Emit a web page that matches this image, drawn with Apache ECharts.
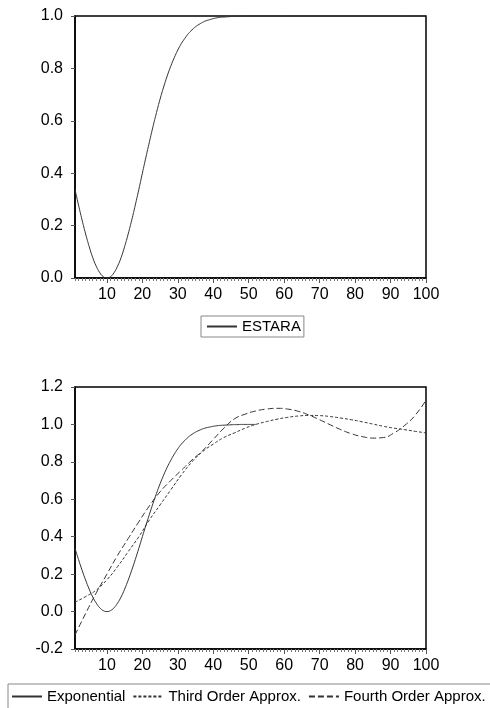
<!DOCTYPE html>
<html>
<head>
<meta charset="utf-8">
<script src="https://cdn.jsdelivr.net/npm/echarts@6/dist/echarts.min.js"></script>
<style>
  html, body { margin: 0; padding: 0; background: #fff; }
  #chart { width: 490px; height: 708px; }
</style>
</head>
<body>
<div id="chart"></div>
<script>
// ESTAR transition function and its polynomial approximations
const obs = Array.from({ length: 100 }, (_, i) => i + 1)

// exponential (ESTARA) value at each observation 1..100
const estara = [
  0.338, 0.278, 0.221, 0.168, 0.120, 0.078, 0.045, 0.020, 0.005, 0.000,
  0.005, 0.020, 0.045, 0.078, 0.120, 0.168, 0.221, 0.278, 0.338, 0.400,
  0.461, 0.520, 0.578, 0.632, 0.683, 0.729, 0.771, 0.808, 0.841, 0.870,
  0.895, 0.915, 0.933, 0.947, 0.959, 0.968, 0.976, 0.982, 0.986, 0.990,
  0.993, 0.995, 0.996, 0.997, 0.998, 0.999, 0.999, 1.000, 1.000, 1.000,
  1.000, 1.000, 1.000, 1.000, 1.000, 1.000, 1.000, 1.000, 1.000, 1.000,
  1.000, 1.000, 1.000, 1.000, 1.000, 1.000, 1.000, 1.000, 1.000, 1.000,
  1.000, 1.000, 1.000, 1.000, 1.000, 1.000, 1.000, 1.000, 1.000, 1.000,
  1.000, 1.000, 1.000, 1.000, 1.000, 1.000, 1.000, 1.000, 1.000, 1.000,
  1.000, 1.000, 1.000, 1.000, 1.000, 1.000, 1.000, 1.000, 1.000, 1.000
]
// lower panel only shows the exponential up to about obs 52
const expShown = 52

// approximations, sampled every 3 observations
const approxObs = [1, 4, 7, 10, 13, 16, 19, 22, 25, 28, 31, 34, 37, 40, 43, 46, 49,
  52, 55, 58, 61, 64, 67, 70, 73, 76, 79, 82, 85, 88, 91, 94, 97, 100]
const thirdOrder = [0.05, 0.08, 0.115, 0.17, 0.24, 0.32, 0.40, 0.49, 0.57, 0.65, 0.73, 0.80,
  0.855, 0.895, 0.93, 0.955, 0.98, 1.0, 1.015, 1.028, 1.038, 1.045, 1.048, 1.047, 1.042,
  1.034, 1.025, 1.014, 1.002, 0.99, 0.98, 0.972, 0.963, 0.955]
const fourthOrder = [-0.125, -0.01, 0.10, 0.20, 0.30, 0.39, 0.48, 0.565, 0.64, 0.70, 0.755,
  0.81, 0.86, 0.92, 0.98, 1.03, 1.055, 1.072, 1.082, 1.086, 1.082, 1.07, 1.05, 1.025, 0.998,
  0.972, 0.95, 0.935, 0.927, 0.93, 0.955, 0.995, 1.05, 1.13]

const xLabels = [10, 20, 30, 40, 50, 60, 70, 80, 90, 100]
const topTicks = [0, 0.2, 0.4, 0.6, 0.8, 1.0]
const bottomTicks = [-0.2, 0, 0.2, 0.4, 0.6, 0.8, 1.0, 1.2]

const font = 'Liberation Sans, Arial, sans-serif'
const ink = '#333'

function pairs(xs, ys, n) {
  const out = []
  for (let i = 0; i < (n || ys.length); i++) out.push([xs[i], ys[i]])
  return out
}

function xAxes(gridIndex) {
  return [
    {
      type: 'value', gridIndex, min: 1, max: 100, position: 'bottom',
      axisLine: { show: true, onZero: false, lineStyle: { color: '#000', width: 1.5 } },
      axisTick: { show: true, length: 3, customValues: obs, lineStyle: { color: '#777', width: 1 } },
      axisLabel: { customValues: xLabels, color: '#000', fontFamily: font, fontSize: 16, margin: 9 },
      splitLine: { show: false }
    },
    {
      type: 'value', gridIndex, min: 1, max: 100, position: 'bottom',
      axisLine: { show: false, onZero: false },
      axisTick: { show: true, length: 5, customValues: xLabels, lineStyle: { color: '#555', width: 1 } },
      axisLabel: { show: false },
      splitLine: { show: false }
    }
  ]
}

function yAxis(gridIndex, min, max, ticks) {
  return {
    type: 'value', gridIndex, min, max,
    axisLine: { show: true, onZero: false, lineStyle: { color: '#000', width: 1.5 } },
    axisTick: { show: true, length: 4, customValues: ticks, lineStyle: { color: '#555' } },
    axisLabel: {
      customValues: ticks, color: '#000', fontFamily: font, fontSize: 16, margin: 12,
      formatter: v => v.toFixed(1)
    },
    splitLine: { show: false }
  }
}

const chart = echarts.init(document.getElementById('chart'), null, { renderer: 'canvas' })

const legendText = { color: '#000', fontFamily: font, fontSize: 15 }

const option = {
  animation: false,
  backgroundColor: '#fff',
  grid: [
    { left: 75, top: 16, width: 351, height: 262, show: true, borderColor: '#000', borderWidth: 1.5 },
    { left: 75, top: 387, width: 351, height: 262, show: true, borderColor: '#000', borderWidth: 1.5 }
  ],
  xAxis: [...xAxes(0), ...xAxes(1)],
  yAxis: [yAxis(0, 0, 1, topTicks), yAxis(1, -0.2, 1.2, bottomTicks)],
  legend: [
    {
      data: ['ESTARA'], left: 201, top: 316,
      padding: [3, 3, 3, 5], itemWidth: 30, itemHeight: 12, itemGap: 8,
      itemStyle: { opacity: 0 },
      borderColor: '#888', borderWidth: 1,
      textStyle: legendText
    },
    {
      data: ['Exponential', 'Third Order Approx.', 'Fourth Order Approx.'],
      left: 8, top: 684, width: 560, orient: 'horizontal',
      padding: [5, 10, 6, 3], itemWidth: 30, itemHeight: 12, itemGap: 7,
      itemStyle: { opacity: 0 },
      borderColor: '#888', borderWidth: 1,
      textStyle: legendText
    }
  ],
  series: [
    {
      name: 'ESTARA', type: 'line', xAxisIndex: 0, yAxisIndex: 0,
      data: pairs(obs, estara), symbol: 'none', smooth: true,
      lineStyle: { color: ink, width: 1 }, itemStyle: { color: ink }
    },
    {
      name: 'Exponential', type: 'line', xAxisIndex: 2, yAxisIndex: 1,
      data: pairs(obs, estara, expShown), symbol: 'none', smooth: true,
      lineStyle: { color: ink, width: 1 }, itemStyle: { color: ink }
    },
    {
      name: 'Third Order Approx.', type: 'line', xAxisIndex: 2, yAxisIndex: 1,
      data: pairs(approxObs, thirdOrder), symbol: 'none', smooth: true,
      lineStyle: { color: ink, width: 1, type: [3, 2] }, itemStyle: { color: ink }
    },
    {
      name: 'Fourth Order Approx.', type: 'line', xAxisIndex: 2, yAxisIndex: 1,
      data: pairs(approxObs, fourthOrder), symbol: 'none', smooth: true,
      lineStyle: { color: ink, width: 1, type: [6, 3] }, itemStyle: { color: ink }
    }
  ]
}

chart.setOption(option)
</script>
</body>
</html>
